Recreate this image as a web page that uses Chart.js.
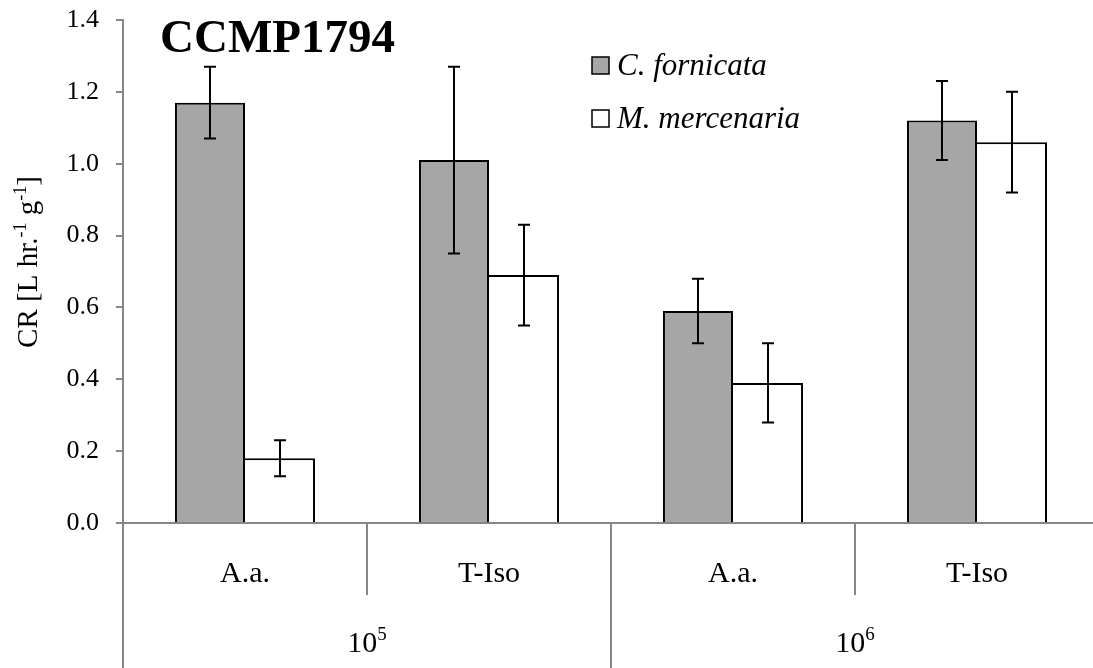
<!DOCTYPE html>
<html>
<head>
<meta charset="utf-8">
<script src="https://cdn.jsdelivr.net/npm/chart.js@4.4.0/dist/chart.umd.min.js"></script>
<style>
html, body { margin: 0; padding: 0; overflow: hidden; background: #fff; }
#wrap { position: relative; width: 1099px; height: 668px; }
</style>
</head>
<body>
<div id="wrap"><canvas id="crChart"></canvas></div>
<script>
// data
const categories = ['A.a.', 'T-Iso', 'A.a.', 'T-Iso'];
const groupBase = ['10', '10'];
const groupExp = ['5', '6'];
const fornicata = [1.17, 1.01, 0.59, 1.12];
const fornicataErr = [0.10, 0.26, 0.09, 0.11];
const mercenaria = [0.18, 0.69, 0.39, 1.06];
const mercenariaErr = [0.05, 0.14, 0.11, 0.14];
const seriesNames = ['C. fornicata', 'M. mercenaria'];
const yMin = 0, yMax = 1.4, yStep = 0.2;

const serif = '"Liberation Serif", "Times New Roman", serif';
const axisGray = '#868686';

// error bars, drawn from the bar elements and the y scale
const errorBars = {
    id: 'errorBars',
    afterDatasetsDraw(chart) {
        const ctx = chart.ctx;
        const y = chart.scales.y;
        const errs = [fornicataErr, mercenariaErr];
        ctx.save();
        ctx.strokeStyle = '#000';
        ctx.lineWidth = 2;
        chart.data.datasets.forEach((ds, i) => {
            chart.getDatasetMeta(i).data.forEach((bar, j) => {
                const v = ds.data[j];
                const top = y.getPixelForValue(v + errs[i][j]);
                const bot = y.getPixelForValue(v - errs[i][j]);
                ctx.beginPath();
                ctx.moveTo(bar.x, top); ctx.lineTo(bar.x, bot);
                ctx.moveTo(bar.x - 6, top); ctx.lineTo(bar.x + 6, top);
                ctx.moveTo(bar.x - 6, bot); ctx.lineTo(bar.x + 6, bot);
                ctx.stroke();
            });
        });
        ctx.restore();
    }
};

// title, legend, two level category axis and y title
const decorations = {
    id: 'decorations',
    afterDraw(chart) {
        const ctx = chart.ctx;
        const x = chart.scales.x;
        const area = chart.chartArea;
        const catW = (x.right - x.left) / categories.length;
        ctx.save();

        // title
        ctx.fillStyle = '#000';
        ctx.font = 'bold 47px ' + serif;
        ctx.textAlign = 'left';
        ctx.textBaseline = 'alphabetic';
        ctx.fillText('CCMP1794', 160, 52);

        // legend
        const legY = [65.5, 118.5];
        chart.data.datasets.forEach((ds, i) => {
            ctx.fillStyle = ds.backgroundColor;
            ctx.fillRect(592, legY[i] - 8.5, 17, 17);
            ctx.strokeStyle = '#000';
            ctx.lineWidth = 1.5;
            ctx.strokeRect(592, legY[i] - 8.5, 17, 17);
            ctx.fillStyle = '#000';
            ctx.font = 'italic 31px ' + serif;
            ctx.textBaseline = 'middle';
            ctx.fillText(ds.label, 617, legY[i] + 1);
        });

        // category separators
        ctx.strokeStyle = axisGray;
        ctx.lineWidth = 2;
        ctx.beginPath();
        ctx.moveTo(area.left, area.bottom);
        ctx.lineTo(area.left, chart.height);
        for (let i = 0; i < categories.length - 1; i++) {
            const bx = x.getPixelForValue(i) + catW / 2;
            ctx.moveTo(bx, area.bottom);
            ctx.lineTo(bx, (i % 2 === 1) ? chart.height : area.bottom + 72);
        }
        ctx.stroke();

        // inner labels
        ctx.fillStyle = '#000';
        ctx.font = '30px ' + serif;
        ctx.textAlign = 'center';
        ctx.textBaseline = 'alphabetic';
        categories.forEach((c, i) => {
            ctx.fillText(c, x.getPixelForValue(i), area.bottom + 59);
        });

        // outer labels with exponent
        groupBase.forEach((b, g) => {
            const cx = (x.getPixelForValue(2 * g) + x.getPixelForValue(2 * g + 1)) / 2;
            ctx.font = '30px ' + serif;
            const bw = ctx.measureText(b).width;
            ctx.font = '19px ' + serif;
            const ew = ctx.measureText(groupExp[g]).width;
            const sx = cx - (bw + ew) / 2;
            ctx.textAlign = 'left';
            ctx.font = '30px ' + serif;
            ctx.fillText(b, sx, area.bottom + 129);
            ctx.font = '19px ' + serif;
            ctx.fillText(groupExp[g], sx + bw, area.bottom + 117);
        });

        // y axis title with superscripts, rotated
        const parts = [
            ['CR [L hr.', false], ['-1', true], [' g', false], ['-1', true], [']', false]
        ];
        const fNorm = '29px ' + serif, fSup = '18px ' + serif;
        let total = 0;
        parts.forEach(p => { ctx.font = p[1] ? fSup : fNorm; total += ctx.measureText(p[0]).width; });
        ctx.translate(37, 262);
        ctx.rotate(-Math.PI / 2);
        let px = -total / 2;
        ctx.textAlign = 'left';
        parts.forEach(p => {
            ctx.font = p[1] ? fSup : fNorm;
            ctx.fillText(p[0], px, p[1] ? -11 : 0);
            px += ctx.measureText(p[0]).width;
        });
        ctx.restore();
    }
};

document.addEventListener('DOMContentLoaded', function() {
    const ctx = document.getElementById('crChart').getContext('2d');

    new Chart(ctx, {
        type: 'bar',
        data: {
            labels: categories,
            datasets: [{
                label: seriesNames[0],
                data: fornicata,
                backgroundColor: '#a6a6a6',
                borderColor: '#000',
                borderWidth: 2
            }, {
                label: seriesNames[1],
                data: mercenaria,
                backgroundColor: '#ffffff',
                borderColor: '#000',
                // left edge is shared with the grey bar
                borderWidth: { top: 2, right: 2, bottom: 0, left: 0 }
            }]
        },
        options: {
            responsive: true,
            maintainAspectRatio: false,
            animation: false,
            layout: { padding: { top: 20, left: 0, right: 0, bottom: 0 } },
            datasets: {
                bar: { categoryPercentage: 0.574, barPercentage: 1.0 }
            },
            scales: {
                x: {
                    grid: { display: false },
                    border: { display: true, color: axisGray, width: 2 },
                    ticks: { display: false },
                    afterFit(scale) { scale.height = 145; }
                },
                y: {
                    min: yMin,
                    max: yMax,
                    grid: { drawOnChartArea: false, drawTicks: true, tickLength: 7, color: axisGray, lineWidth: 2 },
                    border: { display: true, color: axisGray, width: 2 },
                    ticks: {
                        stepSize: yStep,
                        padding: 17,
                        color: '#000',
                        font: { family: serif, size: 26 },
                        callback: v => Number(v).toFixed(1)
                    },
                    afterFit(scale) {
                        scale.width = 123;
                        scale.paddingTop = 0;
                        scale.paddingBottom = 0;
                    }
                }
            },
            plugins: {
                legend: { display: false },
                tooltip: { enabled: false }
            }
        },
        plugins: [errorBars, decorations]
    });
});
</script>
</body>
</html>
